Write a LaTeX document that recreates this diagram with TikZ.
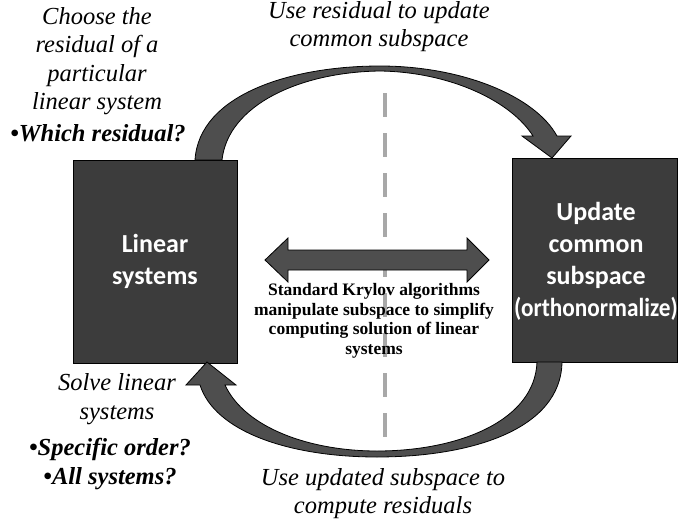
\documentclass[tikz,border=0pt]{standalone}
\usepackage{fontspec}
\setmainfont{Liberation Serif}
\newfontfamily\boxfont{Carlito}
\usetikzlibrary{calc}
\definecolor{boxgray}{HTML}{3C3C3C}
\definecolor{arrowgray}{HTML}{4E4E4E}
\definecolor{dashgray}{HTML}{A8A8A8}
\begin{document}
\begin{tikzpicture}[x=1pt,y=-1pt,
  panel/.style={draw=black, line width=0.8pt, fill=boxgray, text=white,
    align=center, inner sep=0pt,
    font=\boxfont\bfseries\fontsize{26}{32}\selectfont},
  bigarrow/.style={draw=black, line width=0.8pt, fill=arrowgray},
  note/.style={align=center, inner sep=0pt,
    font=\itshape\fontsize{24.5}{28.5}\selectfont},
  bnote/.style={align=center, inner sep=0pt,
    font=\bfseries\itshape\fontsize{24.5}{28.5}\selectfont},
  krylov/.style={align=center, inner sep=0pt,
    font=\bfseries\fontsize{17.5}{19.5}\selectfont},
  divider/.style={draw=dashgray, line width=4pt, dash pattern=on 24pt off 16pt}]
\useasboundingbox (0,0) rectangle (678,525);

% the two blocks
\node[panel, minimum width=164pt, minimum height=203pt] (lin) at (155,261.5)
  {Linear\\systems};
\node[panel, minimum width=165pt, minimum height=204pt] (upd) at (594.5,260) {};
\node[panel, draw=none, fill=none] (updtext) at (596,261.5)
  {Update\\common\\subspace\\\scalebox{0.895}[1]{(orthonormalize)}};

% vertical dashed divider
\coordinate (dtop) at (385,93);
\coordinate (dbot) at (385,437);
\draw[divider] (dtop) -- (dbot);

% double-headed arrow between the blocks
\coordinate (dl) at (265,260);
\coordinate (dr) at (489,260);
\path[bigarrow] (dl) -- ($(dl)+(23,-22)$) -- ($(dl)+(23,-10)$) -- ($(dr)+(-22,-10)$)
  -- ($(dr)+(-22,-22)$) -- (dr) -- ($(dr)+(-22,22)$) -- ($(dr)+(-22,10)$)
  -- ($(dl)+(23,10)$) -- ($(dl)+(23,22)$) -- cycle;

\node[krylov] (kry) at (374,321)
  {Standard Krylov algorithms\\manipulate subspace to simplify\\computing solution of linear\\systems};

% upper curved arrow: residual -> common subspace
\coordinate (ta) at (195,160);
\coordinate (tb) at (222,160);
\coordinate (tip1) at (552,158);
\path[bigarrow] (ta) .. controls (199,95) and (290,66) .. (380,66)
  .. controls (462,66) and (535,96) .. (557,136)
  -- (571,136) -- (tip1) -- (522,136) -- (533,136)
  .. controls (511,101) and (450,72) .. (380,71)
  .. controls (300,72) and (228,105) .. (tb) -- cycle;

% lower curved arrow: updated subspace -> linear systems
\coordinate (ba) at (562,362);
\coordinate (bb) at (537,362);
\coordinate (tip2) at (207,362);
\path[bigarrow] (ba) .. controls (561,430) and (470,457) .. (377,457)
  .. controls (290,457) and (215,432) .. (200,385)
  -- (186,385) -- (tip2) -- (236,385) -- (225,385)
  .. controls (245,428) and (310,451) .. (377,451)
  .. controls (460,451) and (535,420) .. (bb) -- cycle;

% annotations
\node[note] (t1) at (97,61)
  {Choose the\\residual of a\\particular\\linear system};
\node[bnote] (t1b) at (98,133) {\textbullet Which residual?};
\node[note] (t2) at (379,26.5) {Use residual to update\\common subspace};
\node[note] (t3) at (117,399) {Solve linear\\systems};
\node[bnote] (t3b) at (110,464) {\textbullet Specific order?\\\textbullet All systems?};
\node[note] (t4) at (383,493.5) {Use updated subspace to\\compute residuals};
\end{tikzpicture}
\end{document}
